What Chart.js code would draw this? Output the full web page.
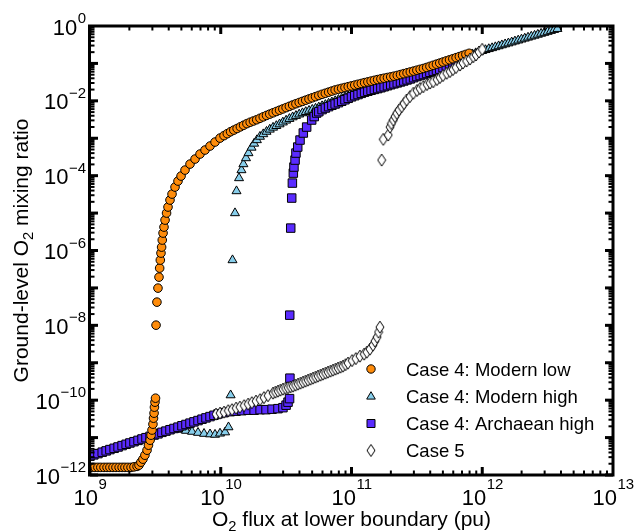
<!DOCTYPE html>
<html>
<head>
<meta charset="utf-8">
<title>Ground-level O2 mixing ratio vs O2 flux</title>
<script src="https://cdn.jsdelivr.net/npm/chart.js@4.4.1/dist/chart.umd.min.js"></script>
<style>
  html, body { margin: 0; padding: 0; background: #fff; }
  #wrap { width: 634px; height: 532px; }
</style>
</head>
<body>
<div id="wrap"><canvas id="chart" width="634" height="532"></canvas></div>
<script>
// axis ticks (value + exponent shown as 10^n)
const xTickValues = [1e9, 1e10, 1e11, 1e12, 1e13];
const xTickExponents = ["9", "10", "11", "12", "13"];
const yTickValues = [1, 1e-2, 1e-4, 1e-6, 1e-8, 1e-10, 1e-12];
const yTickExponents = ["0", "\u22122", "\u22124", "\u22126", "\u22128", "\u221210", "\u221212"];

const seriesNames = ["Case 4: Modern low", "Case 4: Modern high", "Case 4: Archaean high", "Case 5"];

// [O2 flux (pu), ground-level O2 mixing ratio]
const modernLow = [
  [1.04e9, 1.6e-12], [1.09e9, 1.6e-12], [1.15e9, 1.6e-12], [1.21e9, 1.6e-12], [1.28e9, 1.6e-12],
  [1.35e9, 1.6e-12], [1.42e9, 1.6e-12], [1.50e9, 1.6e-12], [1.58e9, 1.6e-12], [1.67e9, 1.6e-12],
  [1.76e9, 1.6e-12], [1.85e9, 1.6e-12], [1.95e9, 1.6e-12], [2.06e9, 1.6e-12], [2.17e9, 1.65e-12],
  [2.29e9, 1.7e-12],
  [2.37e9, 1.83e-12], [2.45e9, 2.2e-12], [2.54e9, 2.65e-12], [2.63e9, 3.38e-12], [2.73e9, 4.6e-12],
  [2.80e9, 6.26e-12], [2.88e9, 8.5e-12], [2.93e9, 1.16e-11], [2.98e9, 1.59e-11], [3.03e9, 2.28e-11],
  [3.06e9, 3.3e-11], [3.09e9, 4.49e-11], [3.11e9, 6.5e-11], [3.14e9, 8.84e-11], [3.17e9, 1.13e-10],
  [3.20e9, 1.01e-8], [3.25e9, 4.17e-8], [3.31e9, 9.88e-8], [3.37e9, 1.94e-7], [3.41e9, 3.38e-7],
  [3.45e9, 5.54e-7], [3.49e9, 8.52e-7], [3.53e9, 1.23e-6], [3.57e9, 1.9e-6], [3.62e9, 2.92e-6],
  [3.68e9, 4.22e-6], [3.75e9, 6.5e-6], [3.85e9, 1.0e-5], [3.95e9, 1.45e-5], [4.09e9, 2.23e-5],
  [4.24e9, 3.22e-5], [4.47e9, 4.96e-5], [4.71e9, 7.17e-5], [4.97e9, 9.76e-5], [5.33e9, 1.41e-4],
  [5.82e9, 2.04e-4], [6.36e9, 2.78e-4], [6.94e9, 3.78e-4], [7.58e9, 4.84e-4], [8.28e9, 6.19e-4],
  [9.04e9, 7.91e-4], [9.87e9, 1.01e-3],
  [1.059e10, 1.175e-3], [1.122e10, 1.327e-3], [1.189e10, 1.493e-3], [1.259e10, 1.652e-3],
  [1.334e10, 1.824e-3], [1.413e10, 2.018e-3], [1.496e10, 2.228e-3], [1.585e10, 2.46e-3],
  [1.679e10, 2.679e-3], [1.778e10, 2.891e-3], [1.884e10, 3.126e-3], [1.995e10, 3.412e-3],
  [2.114e10, 3.733e-3], [2.239e10, 4.074e-3], [2.371e10, 4.416e-3], [2.512e10, 4.786e-3],
  [2.661e10, 5.19e-3], [2.818e10, 5.623e-3], [2.985e10, 6.08e-3], [3.162e10, 6.59e-3],
  [3.35e10, 7.14e-3], [3.548e10, 7.74e-3], [3.758e10, 8.375e-3], [3.981e10, 9.02e-3],
  [4.217e10, 9.68e-3], [4.467e10, 1.042e-2], [4.732e10, 1.122e-2], [5.012e10, 1.205e-2],
  [5.309e10, 1.294e-2], [5.623e10, 1.393e-2], [5.957e10, 1.493e-2], [6.31e10, 1.596e-2],
  [6.683e10, 1.706e-2], [7.079e10, 1.824e-2], [7.499e10, 1.95e-2], [7.943e10, 2.051e-2],
  [8.414e10, 2.158e-2], [8.913e10, 2.27e-2], [9.441e10, 2.388e-2], [1.0e11, 2.506e-2],
  [1.059e11, 2.636e-2], [1.122e11, 2.767e-2], [1.189e11, 2.911e-2], [1.259e11, 3.062e-2],
  [1.334e11, 3.214e-2], [1.413e11, 3.365e-2], [1.496e11, 3.532e-2], [1.585e11, 3.698e-2],
  [1.679e11, 3.873e-2], [1.778e11, 4.027e-2], [1.884e11, 4.198e-2], [1.995e11, 4.365e-2],
  [2.114e11, 4.55e-2], [2.239e11, 4.775e-2], [2.371e11, 5.035e-2], [2.512e11, 5.32e-2],
  [2.661e11, 5.61e-2], [2.818e11, 5.916e-2], [2.985e11, 6.237e-2], [3.162e11, 6.59e-2],
  [3.35e11, 6.95e-2], [3.548e11, 7.33e-2], [3.758e11, 7.80e-2], [3.981e11, 8.337e-2],
  [4.217e11, 8.913e-2], [4.467e11, 9.55e-2], [4.732e11, 0.1021], [5.012e11, 0.1091],
  [5.309e11, 0.1167], [5.623e11, 0.1247], [5.957e11, 0.1334], [6.31e11, 0.1426],
  [6.683e11, 0.1524], [7.079e11, 0.1629], [7.499e11, 0.1742], [7.943e11, 0.1862]
];

const modernHigh = [
  [1.0e9, 3.18e-12], [1.11e9, 3.6e-12], [1.24e9, 4.07e-12], [1.37e9, 4.6e-12], [1.53e9, 5.21e-12],
  [1.70e9, 5.89e-12], [1.89e9, 6.66e-12], [2.10e9, 7.53e-12], [2.33e9, 8.52e-12], [2.59e9, 9.64e-12],
  [2.88e9, 1.09e-11], [3.20e9, 1.23e-11], [3.55e9, 1.39e-11], [3.95e9, 1.58e-11], [4.39e9, 1.68e-11],
  [4.88e9, 1.63e-11], [5.42e9, 1.53e-11], [6.03e9, 1.44e-11], [6.70e9, 1.35e-11], [7.45e9, 1.27e-11],
  [8.28e9, 1.23e-11], [9.04e9, 1.20e-11], [9.87e9, 1.29e-11], [1.08e10, 1.39e-11], [1.146e10, 1.90e-11],
  [1.19e10, 1.36e-10],
  [1.23e10, 5.54e-7], [1.285e10, 1.0e-5], [1.32e10, 3.87e-5], [1.38e10, 8.63e-5], [1.44e10, 1.41e-4],
  [1.49e10, 2.04e-4], [1.56e10, 2.95e-4], [1.63e10, 4.02e-4], [1.72e10, 5.64e-4], [1.80e10, 7.22e-4],
  [1.89e10, 8.95e-4],
  [1.995e10, 1.104e-3], [2.114e10, 1.291e-3], [2.239e10, 1.5e-3], [2.371e10, 1.714e-3],
  [2.512e10, 1.932e-3], [2.661e10, 2.138e-3], [2.818e10, 2.371e-3], [2.985e10, 2.661e-3],
  [3.162e10, 2.985e-3], [3.35e10, 3.304e-3], [3.548e10, 3.656e-3], [3.758e10, 3.981e-3],
  [3.981e10, 4.345e-3], [4.217e10, 4.699e-3], [4.467e10, 5.07e-3], [4.732e10, 5.445e-3],
  [5.012e10, 5.821e-3], [5.309e10, 6.223e-3], [5.623e10, 6.699e-3], [5.957e10, 7.244e-3],
  [6.31e10, 7.834e-3], [6.683e10, 8.472e-3], [7.079e10, 9.162e-3], [7.499e10, 9.908e-3],
  [7.943e10, 1.069e-2], [8.414e10, 1.153e-2], [8.913e10, 1.245e-2], [9.441e10, 1.34e-2],
  [1.0e11, 1.445e-2], [1.059e11, 1.552e-2], [1.122e11, 1.671e-2], [1.189e11, 1.795e-2],
  [1.259e11, 1.928e-2], [1.334e11, 2.07e-2], [1.413e11, 2.223e-2], [1.496e11, 2.377e-2],
  [1.585e11, 2.529e-2], [1.679e11, 2.692e-2], [1.778e11, 2.864e-2], [1.884e11, 3.055e-2],
  [1.995e11, 3.273e-2], [2.114e11, 3.516e-2], [2.239e11, 3.741e-2], [2.371e11, 3.972e-2],
  [2.512e11, 4.188e-2], [2.661e11, 4.406e-2], [2.818e11, 4.634e-2], [2.985e11, 4.977e-2],
  [3.162e11, 5.346e-2], [3.35e11, 5.702e-2], [3.548e11, 6.067e-2], [3.758e11, 6.502e-2],
  [3.981e11, 6.982e-2], [4.217e11, 7.482e-2], [4.467e11, 7.962e-2], [4.732e11, 8.472e-2],
  [5.012e11, 9.1e-2], [5.309e11, 9.77e-2], [5.623e11, 0.1042], [5.957e11, 0.1109],
  [6.31e11, 0.1194], [6.683e11, 0.13], [7.079e11, 0.1413], [7.499e11, 0.1524],
  [7.943e11, 0.1644], [8.414e11, 0.1766], [8.913e11, 0.1888], [9.441e11, 0.2018],
  [1.0e12, 0.2158], [1.059e12, 0.2291], [1.122e12, 0.2432], [1.189e12, 0.2576],
  [1.259e12, 0.2735], [1.334e12, 0.2897], [1.413e12, 0.3076], [1.496e12, 0.3266],
  [1.585e12, 0.3459], [1.679e12, 0.3673], [1.778e12, 0.3899], [1.884e12, 0.413],
  [1.995e12, 0.4385], [2.114e12, 0.4645], [2.239e12, 0.4932], [2.371e12, 0.5236],
  [2.512e12, 0.5546], [2.661e12, 0.5888], [2.818e12, 0.6252], [2.985e12, 0.6622],
  [3.162e12, 0.7031], [3.35e12, 0.7447], [3.548e12, 0.7907], [3.758e12, 0.8395]
];

const archaeanHigh = [
  [1.00e9, 3.18e-12], [1.07e9, 3.45e-12], [1.15e9, 3.73e-12], [1.24e9, 4.07e-12], [1.33e9, 4.41e-12],
  [1.42e9, 4.78e-12], [1.53e9, 5.17e-12], [1.64e9, 5.61e-12], [1.76e9, 6.11e-12], [1.89e9, 6.62e-12],
  [2.02e9, 7.17e-12], [2.17e9, 7.77e-12], [2.33e9, 8.42e-12], [2.50e9, 9.17e-12], [2.68e9, 9.94e-12],
  [2.88e9, 1.08e-11], [3.09e9, 1.17e-11], [3.31e9, 1.26e-11], [3.55e9, 1.38e-11], [3.81e9, 1.49e-11],
  [4.09e9, 1.62e-11], [4.39e9, 1.75e-11], [4.71e9, 1.90e-11], [5.05e9, 2.07e-11], [5.42e9, 2.24e-11],
  [5.82e9, 2.43e-11], [6.24e9, 2.63e-11], [6.70e9, 2.85e-11], [7.19e9, 3.10e-11], [7.71e9, 3.36e-11],
  [8.28e9, 3.64e-11], [8.88e9, 3.95e-11], [9.53e9, 4.28e-11],
  [1.06e10, 4.63e-11], [1.18e10, 4.93e-11], [1.31e10, 5.08e-11], [1.45e10, 5.24e-11], [1.62e10, 5.4e-11],
  [1.80e10, 5.4e-11], [2.0e10, 5.57e-11], [2.22e10, 5.57e-11], [2.47e10, 5.74e-11], [2.74e10, 5.93e-11],
  [2.99e10, 6.3e-11], [3.16e10, 7.35e-11], [3.27e10, 8.84e-11], [3.36e10, 1.10e-10],
  [3.38e10, 3.87e-10], [3.37e10, 1.87e-8], [3.43e10, 3.97e-6], [3.49e10, 2.52e-5], [3.53e10, 6.34e-5],
  [3.59e10, 1.17e-4], [3.63e10, 1.70e-4], [3.70e10, 2.61e-4], [3.76e10, 4.02e-4], [3.88e10, 5.82e-4],
  [4.04e10, 8.95e-4], [4.28e10, 1.38e-3], [4.54e10, 1.99e-3], [4.96e10, 3.07e-3], [5.19e10, 3.8e-3],
  [5.42e10, 4.72e-3],
  [5.623e10, 5.129e-3], [5.957e10, 5.834e-3], [6.31e10, 6.427e-3], [6.683e10, 6.998e-3],
  [7.079e10, 7.603e-3], [7.499e10, 8.241e-3], [7.943e10, 8.933e-3], [8.414e10, 9.75e-3],
  [8.913e10, 1.067e-2], [9.441e10, 1.169e-2], [1.0e11, 1.279e-2], [1.059e11, 1.371e-2],
  [1.122e11, 1.472e-2], [1.189e11, 1.585e-2], [1.259e11, 1.702e-2], [1.334e11, 1.807e-2],
  [1.413e11, 1.914e-2], [1.496e11, 2.018e-2], [1.585e11, 2.123e-2], [1.679e11, 2.239e-2],
  [1.778e11, 2.382e-2], [1.884e11, 2.535e-2], [1.995e11, 2.692e-2], [2.114e11, 2.851e-2],
  [2.239e11, 3.02e-2], [2.371e11, 3.199e-2], [2.512e11, 3.396e-2], [2.661e11, 3.622e-2],
  [2.818e11, 3.855e-2], [2.985e11, 4.15e-2], [3.162e11, 4.457e-2], [3.35e11, 4.742e-2],
  [3.548e11, 5.047e-2], [3.758e11, 5.395e-2], [3.981e11, 5.794e-2], [4.217e11, 6.209e-2],
  [4.467e11, 6.607e-2], [4.732e11, 7.047e-2], [5.012e11, 7.656e-2], [5.309e11, 8.356e-2],
  [5.623e11, 9.036e-2], [5.957e11, 9.75e-2], [6.31e11, 0.1057], [6.683e11, 0.1151],
  [7.079e11, 0.125], [7.499e11, 0.1349], [7.943e11, 0.1455]
];

const case5 = [
  [9.2e9, 4.22e-11], [9.87e9, 4.49e-11], [1.06e10, 4.78e-11], [1.14e10, 5.24e-11], [1.22e10, 5.57e-11],
  [1.31e10, 6.11e-11], [1.40e10, 6.5e-11], [1.51e10, 7.13e-11], [1.62e10, 7.82e-11], [1.73e10, 8.57e-11],
  [1.86e10, 9.4e-11], [2.0e10, 1.03e-10], [2.14e10, 1.17e-10], [2.30e10, 1.32e-10], [2.51e10, 1.54e-10],
  [2.62e10, 1.637e-10], [2.74e10, 1.74e-10], [2.864e10, 1.849e-10], [2.99e10, 1.97e-10],
  [3.128e10, 2.07e-10], [3.27e10, 2.16e-10], [3.416e10, 2.27e-10], [3.57e10, 2.37e-10],
  [3.73e10, 2.518e-10], [3.90e10, 2.68e-10], [4.074e10, 2.851e-10], [4.26e10, 3.03e-10],
  [4.449e10, 3.221e-10], [4.65e10, 3.43e-10], [4.859e10, 3.639e-10], [5.08e10, 3.87e-10],
  [5.306e10, 4.121e-10], [5.54e10, 4.38e-10], [5.794e10, 4.656e-10], [6.05e10, 4.96e-10],
  [6.328e10, 5.272e-10], [6.61e10, 5.61e-10], [6.911e10, 5.957e-10], [7.22e10, 6.34e-10],
  [7.545e10, 6.745e-10], [7.88e10, 7.17e-10], [8.24e10, 7.621e-10], [8.61e10, 8.11e-10],
  [8.999e10, 8.892e-10], [9.40e10, 9.76e-10],
  [1.01e11, 1.14e-9], [1.08e11, 1.29e-9], [1.16e11, 1.50e-9], [1.25e11, 1.70e-9], [1.31e11, 1.92e-9],
  [1.385e11, 2.31e-9], [1.46e11, 2.95e-9], [1.51e11, 3.78e-9], [1.57e11, 4.84e-9], [1.61e11, 6.58e-9],
  [1.65e11, 8.95e-9],
  [1.70e11, 2.61e-4], [1.75e11, 9.35e-4], [1.91e11, 1.22e-3], [1.97e11, 1.99e-3], [2.02e11, 2.47e-3],
  [2.09e11, 3.07e-3], [2.15e11, 3.80e-3], [2.22e11, 4.63e-3], [2.31e11, 5.68e-3], [2.42e11, 6.96e-3],
  [2.52e11, 8.47e-3], [2.64e11, 1.05e-2], [2.80e11, 1.30e-2], [2.97e11, 1.59e-2], [3.17e11, 1.89e-2],
  [3.34e11, 2.13e-2], [3.54e11, 2.38e-2], [3.78e11, 2.73e-2], [3.99e11, 2.99e-2], [4.22e11, 3.24e-2],
  [4.51e11, 3.71e-2], [4.75e11, 4.2e-2], [5.01e11, 4.75e-2], [5.35e11, 5.44e-2], [5.67e11, 6.07e-2],
  [5.97e11, 6.87e-2], [6.30e11, 7.77e-2], [6.76e11, 9.06e-2], [7.12e11, 0.1025], [7.58e11, 0.116],
  [8.06e11, 0.131], [8.54e11, 0.151], [8.96e11, 0.168], [9.44e11, 0.2017], [1.0e12, 0.238]
];

const colors = {
  orange: "#ff8c0a",
  sky: "#87ceeb",
  violet: "#5a2bff",
  white: "#ffffff"
};

const fontFamily = "'Liberation Sans', Arial, Helvetica, sans-serif";

function font(size) {
  return `${size}px ${fontFamily}`;
}

// tall open diamond used for Case 5
function makeDiamond(w, h) {
  const c = document.createElement("canvas");
  c.width = w + 2;
  c.height = h + 2;
  const g = c.getContext("2d");
  g.beginPath();
  g.moveTo(c.width / 2, 1);
  g.lineTo(c.width - 1, c.height / 2);
  g.lineTo(c.width / 2, c.height - 1);
  g.lineTo(1, c.height / 2);
  g.closePath();
  g.fillStyle = colors.white;
  g.fill();
  g.lineWidth = 1;
  g.strokeStyle = "#000";
  g.stroke();
  return c;
}
const diamondImg = makeDiamond(8, 12);

function toPoints(list) {
  return list.map(([x, y]) => ({ x, y }));
}

function line(ctx, x1, y1, x2, y2) {
  ctx.beginPath();
  ctx.moveTo(x1, y1);
  ctx.lineTo(x2, y2);
  ctx.stroke();
}

// text with subscripts, centred on x
function drawParts(ctx, parts, x, y, size) {
  const widths = parts.map(([t, sub]) => {
    ctx.font = font(sub ? size * 0.7 : size);
    return ctx.measureText(t).width;
  });
  let cx = x - widths.reduce((a, b) => a + b, 0) / 2;
  parts.forEach(([t, sub], i) => {
    ctx.font = font(sub ? size * 0.7 : size);
    ctx.fillText(t, cx, sub ? y + size * 0.25 : y);
    cx += widths[i];
  });
}

function drawLegendMarker(ctx, kind, x, y) {
  ctx.lineWidth = 1;
  ctx.strokeStyle = "#000";
  if (kind === "diamond") {
    ctx.drawImage(diamondImg, x - diamondImg.width / 2, y - diamondImg.height / 2);
    return;
  }
  ctx.beginPath();
  if (kind === "circle") {
    ctx.fillStyle = colors.orange;
    ctx.arc(x, y, 4.2, 0, Math.PI * 2);
  } else if (kind === "triangle") {
    ctx.fillStyle = colors.sky;
    ctx.moveTo(x, y - 4.8);
    ctx.lineTo(x + 4.3, y + 2.6);
    ctx.lineTo(x - 4.3, y + 2.6);
    ctx.closePath();
  } else {
    ctx.fillStyle = colors.violet;
    ctx.rect(x - 4, y - 4, 8, 8);
  }
  ctx.fill();
  ctx.stroke();
}

const axesPlugin = {
  id: "axesPlugin",
  beforeDraw(chart) {
    const { ctx } = chart;
    ctx.save();
    ctx.fillStyle = "#fff";
    ctx.fillRect(0, 0, chart.width, chart.height);
    ctx.restore();
  },
  afterDatasetsDraw(chart) {
    const { ctx, chartArea: a, scales } = chart;
    const xs = scales.x;
    const ys = scales.y;
    ctx.save();
    ctx.strokeStyle = "#000";
    ctx.lineCap = "butt";

    // x ticks, inward on bottom and top
    for (let e = 9; e <= 12; e++) {
      for (let m = 1; m <= 9; m++) {
        const px = xs.getPixelForValue(m * Math.pow(10, e));
        const major = m === 1;
        ctx.lineWidth = major ? 3 : 2;
        const len = major ? 8 : 4.5;
        line(ctx, px, a.bottom, px, a.bottom - len);
        line(ctx, px, a.top, px, a.top + len);
      }
    }
    // y ticks, inward on left and right
    for (let e = -12; e < 0; e++) {
      for (let m = 1; m <= 9; m++) {
        const py = ys.getPixelForValue(m * Math.pow(10, e));
        const major = m === 1;
        ctx.lineWidth = major ? 3 : 2;
        const len = major ? 8 : 4.5;
        line(ctx, a.left, py, a.left + len, py);
        line(ctx, a.right, py, a.right - len, py);
      }
    }

    // frame
    ctx.lineWidth = 3;
    ctx.strokeRect(a.left - 0.5, a.top, a.right - a.left + 0.5, a.bottom - a.top);

    ctx.fillStyle = "#000";
    ctx.textAlign = "left";
    ctx.textBaseline = "alphabetic";

    // x tick labels 10^n
    xTickValues.forEach((v, i) => {
      const px = xs.getPixelForValue(v);
      ctx.font = font(22);
      const w1 = ctx.measureText("10").width;
      ctx.font = font(15);
      const w2 = ctx.measureText(xTickExponents[i]).width;
      const x0 = px - (w1 + w2) / 2;
      ctx.font = font(22);
      ctx.fillText("10", x0, 505);
      ctx.font = font(15);
      ctx.fillText(xTickExponents[i], x0 + w1 + 0.5, 489);
    });

    // y tick labels 10^n
    yTickValues.forEach((v, i) => {
      const py = ys.getPixelForValue(v);
      const right = 86;
      ctx.font = font(15);
      const w2 = ctx.measureText(yTickExponents[i]).width;
      ctx.font = font(22);
      const w1 = ctx.measureText("10").width;
      ctx.fillText("10", right - w2 - w1 - 0.5, py + 8.5);
      ctx.font = font(15);
      ctx.fillText(yTickExponents[i], right - w2, py - 3);
    });

    // axis titles
    drawParts(ctx, [["O", false], ["2", true], [" flux at lower boundary (pu)", false]], (a.left + a.right) / 2, 526, 21);
    ctx.save();
    ctx.translate(28, (a.top + a.bottom) / 2);
    ctx.rotate(-Math.PI / 2);
    drawParts(ctx, [["Ground-level O", false], ["2", true], [" mixing ratio", false]], 0, 0, 21);
    ctx.restore();

    // legend
    const kinds = ["circle", "triangle", "square", "diamond"];
    const rowY = [369, 396.5, 423.5, 450.5];
    seriesNames.forEach((name, i) => {
      drawLegendMarker(ctx, kinds[i], 371, rowY[i]);
      ctx.fillStyle = "#000";
      ctx.font = font(18.5);
      ctx.fillText(name, 406, rowY[i] + 6.5);
    });

    ctx.restore();
  }
};

const chart = new Chart(document.getElementById("chart"), {
  type: "scatter",
  data: {
    datasets: [
      {
        label: seriesNames[0],
        data: toPoints(modernLow),
        pointStyle: "circle",
        pointRadius: 4.3,
        backgroundColor: colors.orange,
        borderColor: "#000",
        borderWidth: 1,
        order: 1
      },
      {
        label: seriesNames[1],
        data: toPoints(modernHigh),
        pointStyle: "triangle",
        pointRadius: 5.2,
        backgroundColor: colors.sky,
        borderColor: "#000",
        borderWidth: 1,
        order: 3
      },
      {
        label: seriesNames[2],
        data: toPoints(archaeanHigh),
        pointStyle: "rect",
        pointRadius: 6,
        backgroundColor: colors.violet,
        borderColor: "#000",
        borderWidth: 1,
        order: 2
      },
      {
        label: seriesNames[3],
        data: toPoints(case5),
        pointStyle: diamondImg,
        pointRadius: 6,
        backgroundColor: colors.white,
        borderColor: "#000",
        borderWidth: 1,
        order: 0
      }
    ]
  },
  options: {
    responsive: false,
    animation: false,
    devicePixelRatio: 1,
    layout: { padding: { left: 90, right: 21, top: 26, bottom: 57 } },
    scales: {
      x: { type: "logarithmic", min: 1e9, max: 1e13, display: false },
      y: { type: "logarithmic", min: 1e-12, max: 1, display: false }
    },
    plugins: {
      legend: { display: false },
      tooltip: { enabled: false }
    }
  },
  plugins: [axesPlugin]
});
</script>
</body>
</html>
